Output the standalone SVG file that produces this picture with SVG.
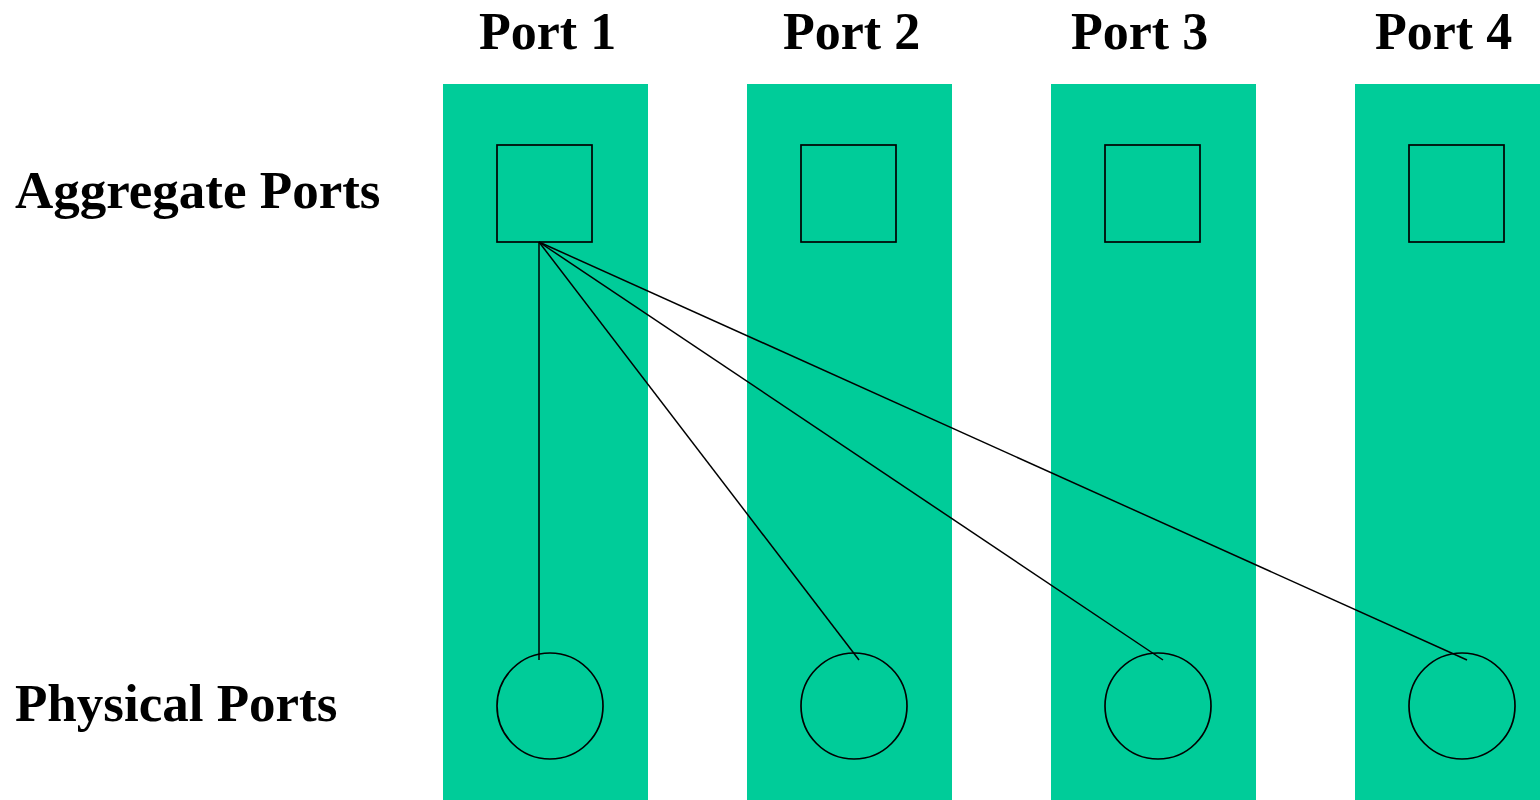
<svg xmlns="http://www.w3.org/2000/svg" width="1540" height="800" viewBox="0 0 1540 800">
  <style>
    .col { fill: #00cc99; }
    .agg { fill: none; stroke: #000; stroke-width: 1.7; }
    .phy { fill: none; stroke: #000; stroke-width: 1.7; }
    .lbl { font-family: "Liberation Serif", "Times New Roman", serif; font-weight: bold; font-size: 52px; fill: #000; }
    .row { font-size: 53px; }
    .link { stroke: #000; stroke-width: 1.5; fill: none; }
  </style>
  <rect width="1540" height="800" fill="#fff"/>

  <!-- row labels -->
  <text class="lbl row" x="15" y="208">Aggregate Ports</text>
  <text class="lbl row" x="15" y="721">Physical Ports</text>

  <!-- port columns -->
  <g id="port1">
    <rect class="col" x="443" y="84" width="205" height="716"/>
    <text class="lbl" x="479" y="49">Port 1</text>
    <rect class="agg" x="497" y="145" width="95" height="97"/>
    <circle class="phy" cx="550" cy="706" r="53"/>
  </g>
  <g id="port2">
    <rect class="col" x="747" y="84" width="205" height="716"/>
    <text class="lbl" x="783" y="49">Port 2</text>
    <rect class="agg" x="801" y="145" width="95" height="97"/>
    <circle class="phy" cx="854" cy="706" r="53"/>
  </g>
  <g id="port3">
    <rect class="col" x="1051" y="84" width="205" height="716"/>
    <text class="lbl" x="1071" y="49">Port 3</text>
    <rect class="agg" x="1105" y="145" width="95" height="97"/>
    <circle class="phy" cx="1158" cy="706" r="53"/>
  </g>
  <g id="port4">
    <rect class="col" x="1355" y="84" width="205" height="716"/>
    <text class="lbl" x="1375" y="49">Port 4</text>
    <rect class="agg" x="1409" y="145" width="95" height="97"/>
    <circle class="phy" cx="1462" cy="706" r="53"/>
  </g>

  <!-- links from aggregate port 1 to each physical port -->
  <g id="connectors">
    <line class="link" x1="539" y1="242" x2="539" y2="660"/>
    <line class="link" x1="539" y1="242" x2="859" y2="660"/>
    <line class="link" x1="539" y1="242" x2="1163" y2="660"/>
    <line class="link" x1="539" y1="242" x2="1467" y2="660"/>
  </g>
</svg>
